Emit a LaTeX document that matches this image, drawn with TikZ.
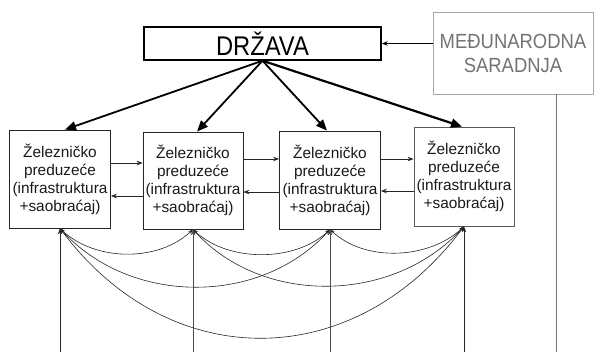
\documentclass[tikz,border=0pt]{standalone}
\usepackage{fontspec}
\setmainfont{Liberation Sans}
\usetikzlibrary{arrows.meta,calc}

\begin{document}
\begin{tikzpicture}[x=1pt,y=-1pt,
  firm/.style={draw=black!85, line width=0.8pt, minimum width=101pt, minimum height=98pt,
    align=center, inner sep=0pt, text=black!90, font=\fontsize{15.4}{18}\selectfont},
  statebox/.style={draw=black, line width=1.4pt, minimum width=237pt, minimum height=33pt, inner sep=0pt},
  intlbox/.style={draw=black!35, line width=0.8pt, minimum width=160pt, minimum height=82pt,
    align=center, inner sep=0pt, text=black!55, font=\fontsize{20.5}{24}\selectfont},
  bigarrow/.style={line width=1.8pt, -{Triangle[length=11pt,width=9pt]}},
  thinarrow/.style={line width=0.7pt, draw=black!85, -{Stealth[length=6pt,width=4.5pt]}},
  linkcurve/.style={line width=0.6pt, draw=black!85, {Stealth[length=5pt,width=3.5pt]}-{Stealth[length=5pt,width=3.5pt]}},
  feedline/.style={line width=0.8pt, draw=black!70, -{Stealth[length=6pt,width=4.5pt]}}
]
\useasboundingbox (0,0) rectangle (596,352);

% state and international cooperation
\node[statebox] (d) at (262.5,43.5) {\fontsize{27}{30}\selectfont\scalebox{0.88}[1]{DRŽAVA}};
\node[intlbox] (m) at (513,53) {\scalebox{0.9}[1]{MEĐUNARODNA}\\\scalebox{0.9}[1]{SARADNJA}};

% railway companies
\node[firm] (b1) at (60,179) {Železničko\\preduzeće\\(infrastruktura\\+saobraćaj)};
\node[firm, minimum width=100pt, minimum height=97pt] (b2) at (193,180.5) {Železničko\\preduzeće\\(infrastruktura\\+saobraćaj)};
\node[firm] (b3) at (330,180) {Železničko\\preduzeće\\(infrastruktura\\+saobraćaj)};
\node[firm, minimum width=100pt, minimum height=99pt, draw=black!65] (b4) at (464,176.5) {Železničko\\preduzeće\\(infrastruktura\\+saobraćaj)};

% cooperation feeds the state
\draw[thinarrow, draw=black] (m.west |- d.east) -- (d.east);
\coordinate (mv) at (556,352);
\draw[line width=0.8pt, draw=black!55] (mv |- m.south) -- (mv);

% state controls each company
\draw[bigarrow] (d.south) -- ($(b1.north)+(5,0)$);
\draw[bigarrow] (d.south) -- ($(b2.north)+(4,0)$);
\draw[bigarrow] (d.south) -- ($(b3.north)+(-3,0)$);
\draw[bigarrow, line width=2.2pt] (d.south) -- ($(b4.north)+(-2,0)$);

% exchanges between neighbouring companies
\draw[thinarrow] (b1.east |- 0,163) -- (b2.west |- 0,163);
\draw[thinarrow] (b2.west |- 0,196) -- (b1.east |- 0,196);
\draw[thinarrow] (b2.east |- 0,159) -- (b3.west |- 0,159);
\draw[thinarrow] (b3.west |- 0,192) -- (b2.east |- 0,192);
\draw[thinarrow] (b3.east |- 0,159) -- (b4.west |- 0,159);
\draw[thinarrow] (b4.west |- 0,191) -- (b3.east |- 0,191);

% links among all companies below
\draw[linkcurve] (b1.south) .. controls +(35,33) and +(-35,33) .. (b2.south);
\draw[linkcurve] (b2.south) .. controls +(35,33) and +(-35,33) .. (b3.south);
\draw[linkcurve] (b3.south) .. controls +(35,33) and +(-35,33) .. (b4.south);
\draw[linkcurve] (b1.south) .. controls +(70,77) and +(-70,77) .. (b3.south);
\draw[linkcurve] (b2.south) .. controls +(70,77) and +(-70,77) .. (b4.south);
\draw[linkcurve] (b1.south) .. controls +(110,147) and +(-110,147) .. (b4.south);

% inputs from below
\draw[feedline, draw=black!85] (b1.south |- 0,352) -- (b1.south);
\draw[feedline] (b2.south |- 0,352) -- (b2.south);
\draw[feedline] (b3.south |- 0,352) -- (b3.south);
\draw[feedline, draw=black!85] (b4.south |- 0,352) -- (b4.south);
\end{tikzpicture}
\end{document}
